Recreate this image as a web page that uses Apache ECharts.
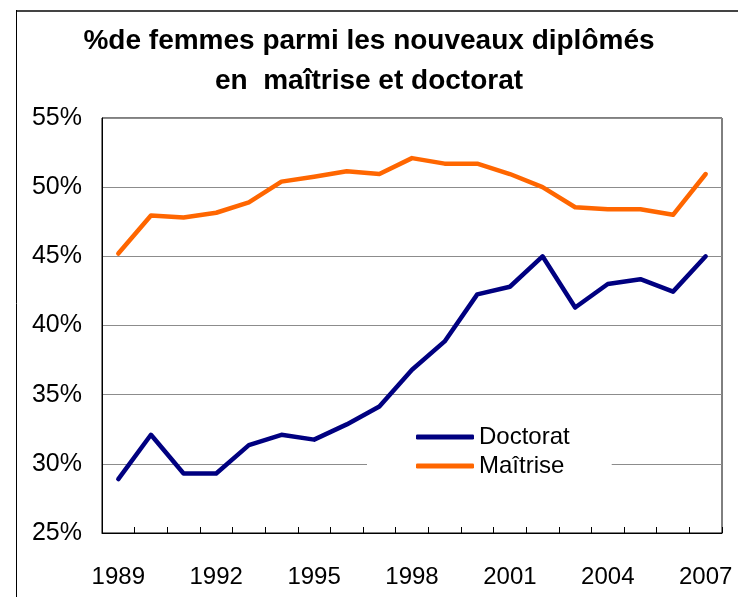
<!DOCTYPE html>
<html>
<head>
<meta charset="utf-8">
<script src="https://cdn.jsdelivr.net/npm/echarts@6/dist/echarts.min.js"></script>
<style>
  html, body { margin: 0; padding: 0; background: #fff; }
  #chart { width: 738px; height: 597px; }
</style>
</head>
<body>
<div id="chart"></div>
<script>
// années
const years = ['1989', '1990', '1991', '1992', '1993', '1994', '1995', '1996', '1997', '1998',
  '1999', '2000', '2001', '2002', '2003', '2004', '2005', '2006', '2007'];
// % de femmes, doctorat
const doctorat = [28.9, 32.1, 29.3, 29.3, 31.35, 32.1, 31.75, 32.85, 34.15, 36.8,
  38.85, 42.25, 42.8, 45.0, 41.3, 43.0, 43.35, 42.45, 45.0];
// % de femmes, maîtrise
const maitrise = [45.2, 47.95, 47.8, 48.15, 48.9, 50.4, 50.75, 51.15, 50.95, 52.1,
  51.7, 51.7, 50.95, 50.0, 48.55, 48.4, 48.4, 48.0, 50.95];

const font = "'Liberation Sans', Arial, sans-serif";

const chart = echarts.init(document.getElementById('chart'));

const option = {
  animation: false,
  backgroundColor: '#fff',
  textStyle: { fontFamily: font },
  title: {
    text: '%de femmes parmi les nouveaux diplômés\nen  maîtrise et doctorat',
    left: 'center',
    top: 16,
    textStyle: {
      fontFamily: font,
      fontSize: 28,
      fontWeight: 'bold',
      color: '#000',
      lineHeight: 40
    }
  },
  legend: {
    orient: 'vertical',
    left: 367,
    top: 417,
    padding: [8, 42, 8, 49],
    backgroundColor: '#fff',
    itemWidth: 58,
    itemHeight: 5,
    itemGap: 5,
    icon: 'roundRect',
    textStyle: { fontFamily: font, fontSize: 24, color: '#000' },
    data: ['Doctorat', 'Maîtrise']
  },
  grid: {
    left: 102,
    right: 16,
    top: 118,
    bottom: 64,
    show: true,
    borderColor: '#000',
    borderWidth: 1
  },
  xAxis: {
    type: 'category',
    data: years,
    boundaryGap: true,
    axisLine: { lineStyle: { color: '#000', width: 1 } },
    axisTick: { show: true, inside: true, length: 6, interval: 0, lineStyle: { color: '#000' } },
    axisLabel: {
      interval: 2,
      margin: 32,
      fontSize: 24,
      color: '#000',
      fontFamily: font
    },
    splitLine: { show: false }
  },
  yAxis: {
    type: 'value',
    min: 25,
    max: 55,
    interval: 5,
    axisLine: { show: true, lineStyle: { color: '#000', width: 1 } },
    axisTick: { show: false },
    axisLabel: {
      formatter: '{value}%',
      margin: 20,
      fontSize: 25,
      color: '#000',
      fontFamily: font
    },
    splitLine: { show: true, lineStyle: { color: '#8c8c8c', width: 1 } }
  },
  series: [
    {
      name: 'Doctorat',
      type: 'line',
      data: doctorat,
      showSymbol: false,
      symbol: 'none',
      color: '#000080',
      lineStyle: { color: '#000080', width: 4.5, cap: 'round', join: 'round' }
    },
    {
      name: 'Maîtrise',
      type: 'line',
      data: maitrise,
      showSymbol: false,
      symbol: 'none',
      color: '#ff6600',
      lineStyle: { color: '#ff6600', width: 4.5, cap: 'round', join: 'round' }
    }
  ],
  graphic: [
    // cadre extérieur (haut et gauche)
    { type: 'line', shape: { x1: 16, y1: 11, x2: 738, y2: 11 }, style: { stroke: '#444', lineWidth: 2 } },
    { type: 'line', shape: { x1: 16.5, y1: 10, x2: 16.5, y2: 597 }, style: { stroke: '#000', lineWidth: 1 } }
  ]
};

chart.setOption(option);
</script>
</body>
</html>
